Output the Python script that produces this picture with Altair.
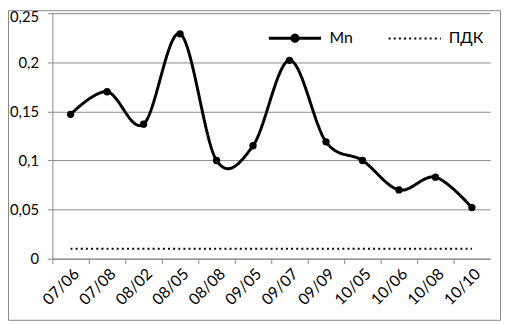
import altair as alt
import pandas as pd

categories = ["07/06", "07/08", "08/02", "08/05", "08/08", "09/05",
              "09/07", "09/09", "10/05", "10/06", "10/08", "10/10"]
mn_values = [0.147, 0.170, 0.137, 0.229, 0.100, 0.115,
             0.202, 0.119, 0.100, 0.070, 0.083, 0.052]
pdk_values = [0.01] * 12
y_ticks = [0, 0.05, 0.1, 0.15, 0.2, 0.25]
series_names = ["Mn", "ПДК"]

rows = []
for c, v in zip(categories, mn_values):
    rows.append({"cat": c, "value": v, "series": "Mn"})
for c, v in zip(categories, pdk_values):
    rows.append({"cat": c, "value": v, "series": "ПДК"})
df = pd.DataFrame(rows)

W, H = 444, 249
FONT = "Lato"
GRAY = "#878787"

x_enc = alt.X(
    "cat:N", sort=categories, title=None,
    scale=alt.Scale(type="point", padding=0.5),
    axis=alt.Axis(labelAngle=-45, labelFontSize=16, labelFont=FONT,
                  labelColor="#000000", tickColor=GRAY, domainColor=GRAY,
                  tickSize=5, tickOffset=-18.5, labelOffset=18.5,
                  labelPadding=2, grid=False),
)
y_enc = alt.Y(
    "value:Q", title=None,
    scale=alt.Scale(domain=[0, 0.25], nice=False),
    axis=alt.Axis(values=y_ticks, labelFontSize=15, labelFont=FONT,
                  labelColor="#000000", tickColor=GRAY, domainColor=GRAY,
                  gridColor=GRAY, tickSize=5, labelPadding=9,
                  labelOffset=alt.condition("datum.value >= 0.25", alt.value(3), alt.value(0)),
                  labelExpr="replace(format(datum.value, '.2~f'), '.', ',')"),
)

border = alt.Chart(alt.Data(values=[{}])).mark_rect(
    fill=None, stroke=GRAY, strokeWidth=1
).encode(
    x=alt.value(-44.5), x2=alt.value(W + 10.5),
    y=alt.value(-2.5), y2=alt.value(H + 62.5),
)

lines = alt.Chart(df).mark_line(interpolate="cardinal", color="black").encode(
    x=x_enc, y=y_enc,
    detail="series:N",
    strokeDash=alt.condition("datum.series == 'ПДК'", alt.value([2, 3.2]), alt.value([1, 0])),
    strokeWidth=alt.condition("datum.series == 'ПДК'", alt.value(2), alt.value(3)),
)

points = alt.Chart(df).transform_filter("datum.series == 'Mn'").mark_point(
    filled=True, color="black", size=55, opacity=1
).encode(x=x_enc, y=y_enc)

# legend symbols: a stroke with a dot (two concentric tiny rings make a filled dot)
mn_path = ("M-1,0H1"
           "M-0.05,0A0.05,0.05,0,1,1,0.05,0A0.05,0.05,0,1,1,-0.05,0Z"
           "M-0.12,0A0.12,0.12,0,1,1,0.12,0A0.12,0.12,0,1,1,-0.12,0Z")
pdk_path = "M-1,0H1"

legend_layer = alt.Chart(df).transform_filter("false").mark_point(
    filled=False, color="black", opacity=1
).encode(
    x=x_enc, y=y_enc,
    shape=alt.Shape("series:N", scale=alt.Scale(domain=series_names, range=[mn_path, pdk_path]),
                    legend=alt.Legend(title=None, orient="none", legendX=218, legendY=-3,
                                      direction="horizontal", labelFontSize=16, labelFont=FONT,
                                      labelColor="#000000", symbolSize=2800,
                                      symbolStrokeColor="black",
                                      labelOffset=7, columnPadding=32, padding=0)),
    strokeDash=alt.StrokeDash("series:N", scale=alt.Scale(domain=series_names, range=[[1, 0], [2, 3.2]])),
    strokeWidth=alt.StrokeWidth("series:N", scale=alt.Scale(domain=series_names, range=[3, 2])),
)

chart = alt.layer(border, lines, points, legend_layer).properties(
    width=W, height=H,
    autosize=alt.AutoSizeParams(type="none"),
    padding={"left": 45, "top": 3, "right": 11, "bottom": 63},
    background="white",
).configure_view(stroke=None)

chart.save("out.html", embed_options={"renderer": "svg", "actions": False})
